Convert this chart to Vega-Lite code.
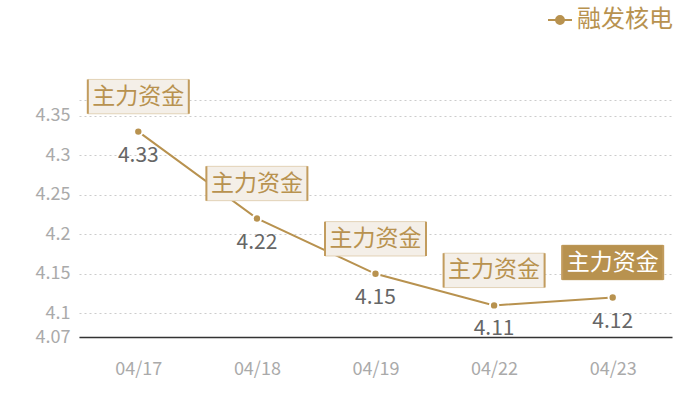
{
  "$schema": "https://vega.github.io/schema/vega-lite/v6.json",
  "width": 593,
  "height": 237,
  "autosize": "none",
  "padding": {"left": 79, "top": 100, "right": 28, "bottom": 63},
  "background": "white",
  "data": {
    "values": [
      {"date": "04/17", "value": 4.33, "series": "融发核电", "note": "主力资金"},
      {"date": "04/18", "value": 4.22, "series": "融发核电", "note": "主力资金"},
      {"date": "04/19", "value": 4.15, "series": "融发核电", "note": "主力资金"},
      {"date": "04/22", "value": 4.11, "series": "融发核电", "note": "主力资金"},
      {"date": "04/23", "value": 4.12, "series": "融发核电", "note": "主力资金"}
    ]
  },
  "encoding": {
    "x": {
      "field": "date",
      "type": "ordinal",
      "scale": {"type": "point", "padding": 0.5},
      "axis": {
        "title": null,
        "labelAngle": 0,
        "ticks": false,
        "labelPadding": 23,
        "labelFontSize": 18,
        "labelColor": "#aaaaaa",
        "domainColor": "#333333",
        "domainWidth": 1.5,
        "grid": false
      }
    },
    "y": {
      "field": "value",
      "type": "quantitative",
      "scale": {"domain": [4.07, 4.37], "nice": false, "zero": false},
      "axis": {
        "title": null,
        "values": [4.07, 4.1, 4.15, 4.2, 4.25, 4.3, 4.35, 4.37],
        "labelExpr": "datum.value > 4.36 ? '' : format(datum.value, '.2~f')",
        "domain": false,
        "ticks": false,
        "labelPadding": 9,
        "labelFontSize": 18,
        "labelColor": "#aaaaaa",
        "gridColor": "#cccccc",
        "gridDash": [2, 3]
      }
    }
  },
  "layer": [
    {
      "mark": {"type": "line", "strokeWidth": 2},
      "encoding": {
        "color": {
          "field": "series",
          "type": "nominal",
          "scale": {"range": ["#b8924f"]},
          "legend": {
            "title": null,
            "orient": "none",
            "legendX": 468,
            "legendY": -93,
            "labelFontSize": 24,
            "labelColor": "#b8924f",
            "symbolType": "M-1,0 L-0.35,0 M0.35,0 L1,0 M-0.33,0 A0.33,0.33 0 1,0 0.33,0 A0.33,0.33 0 1,0 -0.33,0 Z",
            "symbolSize": 576,
            "symbolStrokeWidth": 2,
            "symbolFillColor": "#b8924f",
            "labelOffset": 4
          }
        }
      }
    },
    {
      "mark": {"type": "point", "filled": true, "size": 70, "color": "#b8924f", "stroke": "white", "strokeWidth": 2, "opacity": 1}
    },
    {
      "mark": {"type": "text", "dy": 24, "fontSize": 21, "color": "#666666"},
      "encoding": {"text": {"field": "value", "type": "quantitative", "format": ".2f"}}
    },
    {
      "mark": {
        "type": "point",
        "shape": "M-1,-0.34 L1,-0.34 L1,0.34 L-1,0.34 Z",
        "size": 10200,
        "yOffset": -35,
        "strokeWidth": 1,
        "opacity": 1
      },
      "encoding": {
        "fill": {"condition": {"test": "datum.date == '04/23'", "value": "#b8924f"}, "value": "#f4efe8"},
        "stroke": {"condition": {"test": "datum.date == '04/23'", "value": "#b8924f"}, "value": "#e2d2b6"}
      }
    },
    {
      "mark": {
        "type": "point",
        "shape": "M-1,-0.34 L-1,0.34 M1,-0.34 L1,0.34",
        "size": 10200,
        "yOffset": -35,
        "strokeWidth": 2,
        "filled": false,
        "color": "#c29c5e",
        "opacity": 1
      }
    },
    {
      "mark": {"type": "text", "dy": -35, "fontSize": 23},
      "encoding": {
        "text": {"field": "note"},
        "color": {"condition": {"test": "datum.date == '04/23'", "value": "white"}, "value": "#b8924f"}
      }
    }
  ],
  "config": {
    "font": "Noto Sans CJK SC",
    "view": {"stroke": null}
  }
}
